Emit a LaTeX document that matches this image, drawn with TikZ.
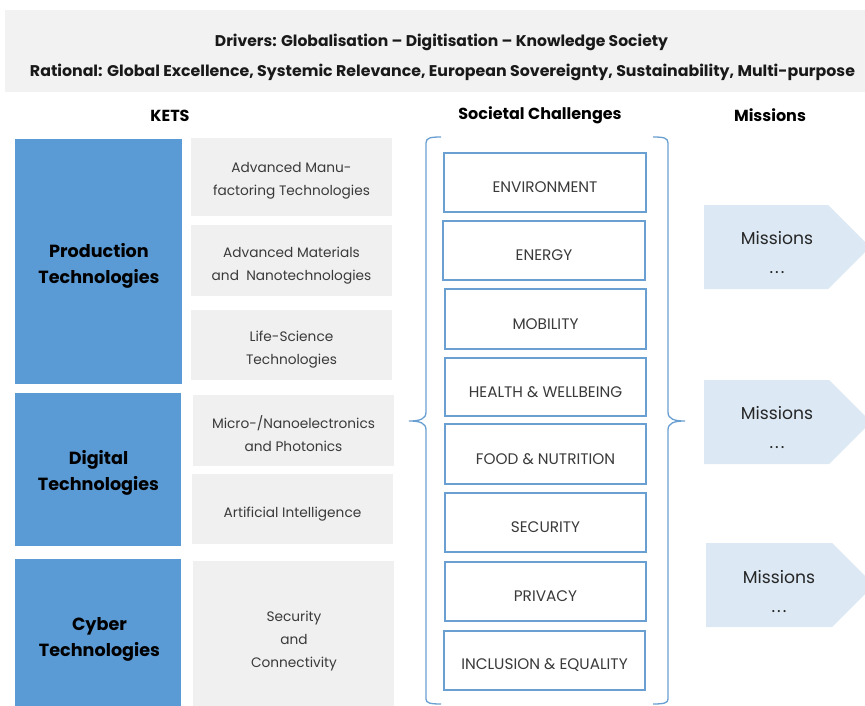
\documentclass[tikz,border=0pt]{standalone}
\usepackage{fontspec}
\setmainfont{Poppins}
\usepackage{graphicx}
\definecolor{ketblue}{HTML}{5B9BD5}
\definecolor{lineblue}{HTML}{6A9FD2}
\definecolor{subgray}{HTML}{F0F0F0}
\definecolor{bandgray}{HTML}{F2F2F2}
\definecolor{misfill}{HTML}{DCE9F5}
\definecolor{txtgray}{HTML}{3A3A3A}
\begin{document}
\begin{tikzpicture}[x=1pt,y=-1pt,
  every node/.style={inner sep=0pt,outer sep=0pt},
  ketbox/.style={fill=ketblue,anchor=north west},
  kettxt/.style={align=center,text=black,font=\bfseries\fontsize{17.6}{26}\selectfont},
  subbox/.style={fill=subgray,anchor=north west},
  subtxt/.style={align=center,text=txtgray,font=\fontsize{13.7}{23}\selectfont},
  chalbox/.style={draw=lineblue,line width=1.4pt,fill=white,anchor=north west},
  chaltxt/.style={text=txtgray,font=\fontsize{15.3}{17}\selectfont},
  headtxt/.style={font=\bfseries\fontsize{16}{18}\selectfont,text=black},
  bandtxt/.style={font=\bfseries\fontsize{15.5}{18}\selectfont,text=black!90},
  mistxt/.style={align=center,text=black!85,font=\fontsize{17.2}{29}\selectfont},
  bracepath/.style={draw=lineblue,line width=1.3pt},
  misshape/.style={fill=misfill}
]
\useasboundingbox (0,0) rectangle (865,706);
\clip (0,0) rectangle (865,706);
\fill[white] (0,0) rectangle (865,706);

% header band
\node[fill=bandgray,anchor=north west,minimum width=862pt,minimum height=82pt] (band) at (5,10) {};
\node[bandtxt] (drivers) at (441.5,42.5) {\resizebox{453pt}{\height}{Drivers: Globalisation – Digitisation – Knowledge Society}};
\node[bandtxt] (rational) at (442.5,72.5) {\resizebox{825pt}{\height}{Rational: Global Excellence, Systemic Relevance, European Sovereignty, Sustainability, Multi-purpose}};

% column headers
\node[headtxt] (hkets) at (170,115.5) {KETS};
\node[headtxt] (hsoc) at (540,115.5) {Societal Challenges};
\node[headtxt] (hmis) at (770,115.5) {Missions};

% KET blue boxes
\node[ketbox,minimum width=167pt,minimum height=245pt] (prod) at (15,139) {};
\node[ketbox,minimum width=166pt,minimum height=153pt] (dig) at (15,393) {};
\node[ketbox,minimum width=166pt,minimum height=150pt] (cyb) at (15,559) {};
\node[kettxt] (prodT) at (99,266) {Production\\Technologies};
\node[kettxt] (digT) at (98.5,473) {Digital\\Technologies};
\node[kettxt] (cybT) at (99.5,639) {Cyber\\Technologies};

% KET sub boxes
\node[subbox,minimum width=201pt,minimum height=78pt] (amt) at (191,138) {};
\node[subbox,minimum width=201pt,minimum height=71pt] (amn) at (191,225) {};
\node[subbox,minimum width=201pt,minimum height=70pt] (lst) at (191,310) {};
\node[subbox,minimum width=201pt,minimum height=71pt] (mic) at (193,395) {};
\node[subbox,minimum width=201pt,minimum height=70pt] (ai) at (192,474) {};
\node[subbox,minimum width=201pt,minimum height=152pt] (secc) at (193,561) {};
\node[subtxt] (amtT) at ([yshift=-4pt]amt.center) {Advanced Manu-\\factoring Technologies};
\node[subtxt] (amnT) at ([yshift=-5pt]amn.center) {Advanced Materials\\and~~Nanotechnologies};
\node[subtxt] (lstT) at ([yshift=-5pt]lst.center) {Life-Science\\Technologies};
\node[subtxt] (micT) at ([yshift=-3pt]mic.center) {Micro-/Nanoelectronics\\and Photonics};
\node[subtxt] (aiT) at ([yshift=-5pt]ai.center) {Artificial Intelligence};
\node[subtxt] (seccT) at (294,641) {Security\\and\\Connectivity};

% braces
\draw[bracepath] (441,137) .. controls (430,137) and (426,138) .. (426,143)
  -- (426,412) .. controls (426,419) and (420,421) .. (409,421)
  .. controls (420,421) and (426,423) .. (426,430)
  -- (426,699) .. controls (426,703) and (430,704) .. (441,704);
\draw[bracepath] (653,137) .. controls (664,137) and (668,138) .. (668,143)
  -- (668,412) .. controls (668,419) and (674,421) .. (685,421)
  .. controls (674,421) and (668,423) .. (668,430)
  -- (668,699) .. controls (668,703) and (664,704) .. (653,704);

% societal challenges
\node[chalbox,minimum width=202pt,minimum height=59pt] (env) at (444,153) {};
\node[chalbox,minimum width=202pt,minimum height=59pt] (ene) at (443,221) {};
\node[chalbox,minimum width=201pt,minimum height=60pt] (mob) at (445,289) {};
\node[chalbox,minimum width=201pt,minimum height=58pt] (hea) at (445,358) {};
\node[chalbox,minimum width=201pt,minimum height=60pt] (foo) at (445,424) {};
\node[chalbox,minimum width=201pt,minimum height=59pt] (secu) at (445,493) {};
\node[chalbox,minimum width=201pt,minimum height=59pt] (pri) at (445,562) {};
\node[chalbox,minimum width=201pt,minimum height=59pt] (inc) at (444,631) {};
\node[chaltxt] (envT) at ([yshift=-5pt]env.center) {ENVIRONMENT};
\node[chaltxt] (eneT) at ([yshift=-5pt]ene.center) {ENERGY};
\node[chaltxt] (mobT) at ([yshift=-5pt]mob.center) {MOBILITY};
\node[chaltxt] (heaT) at ([yshift=-5pt]hea.center) {HEALTH \& WELLBEING};
\node[chaltxt] (fooT) at ([yshift=-5pt]foo.center) {FOOD \& NUTRITION};
\node[chaltxt] (secuT) at ([yshift=-5pt]secu.center) {SECURITY};
\node[chaltxt] (priT) at ([yshift=-5pt]pri.center) {PRIVACY};
\node[chaltxt] (incT) at ([yshift=-5pt]inc.center) {INCLUSION \& EQUALITY};

% missions
\fill[misshape] (704,205) -- (828,205) -- (870,247) -- (828,289) -- (704,289) -- cycle;
\fill[misshape] (704,380) -- (829,380) -- (871,422) -- (829,464) -- (704,464) -- cycle;
\fill[misshape] (706,543) -- (832,543) -- (874,585) -- (832,627) -- (706,627) -- cycle;
\node[mistxt] (mis1) at (777,253) {Missions\\.\kern2pt.\kern2pt.};
\node[mistxt] (mis2) at (777,428) {Missions\\.\kern2pt.\kern2pt.};
\node[mistxt] (mis3) at (779,592) {Missions\\.\kern2pt.\kern2pt.};
\end{tikzpicture}
\end{document}
